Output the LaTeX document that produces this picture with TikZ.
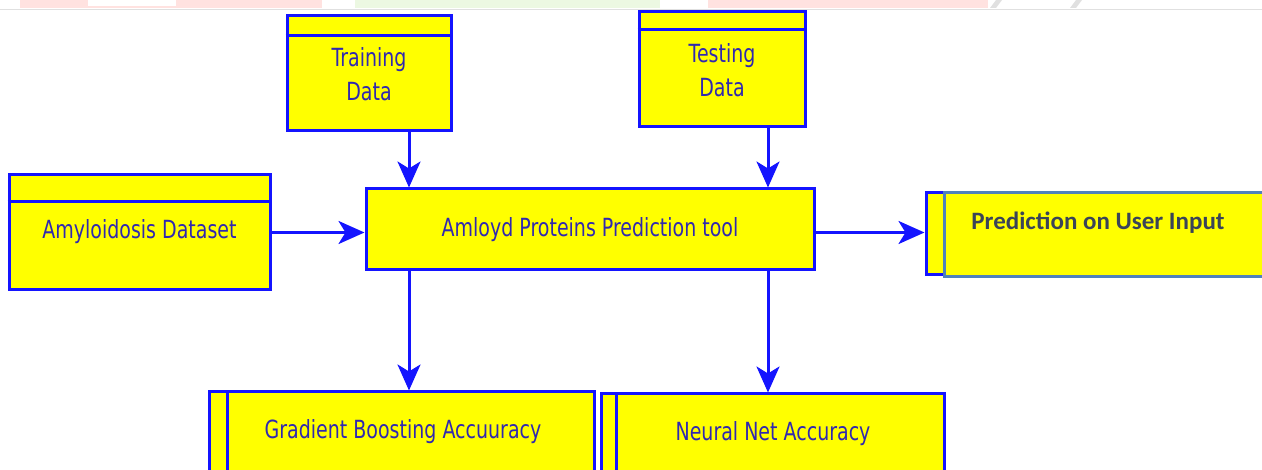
\documentclass[tikz,border=0pt]{standalone}
\usepackage{fontspec}
\usetikzlibrary{arrows.meta,positioning,calc}
\newfontfamily\boxfont[FakeStretch=0.76]{DejaVu Sans}
\newfontfamily\calfont{Carlito}
\definecolor{boxyellow}{RGB}{255,255,0}
\definecolor{edgeblue}{RGB}{20,20,255}
\definecolor{labelblue}{RGB}{48,40,176}
\definecolor{steel}{RGB}{79,129,189}
\definecolor{slatetext}{RGB}{58,68,88}
\definecolor{bandpink}{RGB}{255,226,224}
\definecolor{bandgreen}{RGB}{236,248,226}
\definecolor{bandgray}{RGB}{224,224,224}
\tikzset{
  block/.style={draw=edgeblue, fill=boxyellow, line width=3pt, inner sep=0pt},
  blocktext/.style={font=\boxfont\fontsize{25}{34}\selectfont, text=labelblue, align=center, inner sep=0pt},
  flow/.style={draw=edgeblue, line width=3pt, -{Stealth[length=26pt,width=23pt,inset=7pt]}},
  divider/.style={draw=edgeblue, line width=3pt}
}
\begin{document}
\begin{tikzpicture}[x=1pt,y=-1pt]
  \useasboundingbox (0,0) rectangle (1262,470);
  \clip (0,0) rectangle (1262,470);

  % faint banner strip along the top edge
  \fill[bandpink] (20,0) rectangle (322,8);
  \fill[white] (88,0) rectangle (176,6);
  \fill[bandgreen] (355,0) rectangle (660,8);
  \fill[bandpink] (708,0) rectangle (988,8);
  \fill[bandgray] (990,8) -- (996,0) -- (1002,0) -- (996,8) -- cycle;
  \fill[bandgray] (1070,8) -- (1076,0) -- (1082,0) -- (1076,8) -- cycle;
  \draw[bandgray, line width=1pt] (0,9.5) -- (1262,9.5);

  % arrow columns
  \coordinate (c1) at (409,0);
  \coordinate (c2) at (768,0);

  % data sources
  \node[block, minimum width=164pt, minimum height=115pt] (train) at (369,73.5) {};
  \draw[divider] ([yshift=-21pt]train.north west) -- ([yshift=-21pt]train.north east);
  \node[blocktext] (trainlbl) at (369,74) {Training\\Data};

  \node[block, minimum width=166pt, minimum height=115pt] (test) at (722,69.5) {};
  \draw[divider] ([yshift=-19pt]test.north west) -- ([yshift=-19pt]test.north east);
  \node[blocktext] (testlbl) at (722,70) {Testing\\Data};

  \node[block, minimum width=261pt, minimum height=115pt] (data) at (139.5,232.5) {};
  \draw[divider] ([yshift=-28pt]data.north west) -- ([yshift=-28pt]data.north east);
  \node[blocktext] (datalbl) at (139.5,232) {Amyloidosis Dataset};

  % central tool
  \node[block, minimum width=448pt, minimum height=81pt] (tool) at (590,229.5) {};
  \node[blocktext] (toollbl) at (590,230) {Amloyd Proteins Prediction tool};

  % prediction output
  \node[block, minimum width=30pt, minimum height=82pt] (predtab) at (941,234) {};
  \node[draw=steel, fill=boxyellow, line width=3pt, minimum width=340pt, minimum height=84pt, inner sep=0pt] (pred) at (1114,235) {};
  \node[font=\calfont\bfseries\fontsize{25}{30}\selectfont, text=slatetext, inner sep=0pt] (predlbl) at (1098,223) {Prediction on User Input};

  % accuracy results
  \node[block, minimum width=385pt, minimum height=120pt] (gb) at (401.5,452) {};
  \draw[divider] ([xshift=20pt]gb.north west) -- ([xshift=20pt]gb.south west);
  \node[blocktext] (gblbl) at (403,432) {Gradient Boosting Accuuracy};

  \node[block, minimum width=343pt, minimum height=120pt] (nn) at (772.5,454) {};
  \draw[divider] ([xshift=17pt]nn.north west) -- ([xshift=17pt]nn.south west);
  \node[blocktext] (nnlbl) at (773,434) {Neural Net Accuracy};

  % connectors
  \draw[flow] (train.south -| c1) -- (tool.north -| c1);
  \draw[flow] (test.south -| c2) -- (tool.north -| c2);
  \draw[flow] (data.east) -- (data.east -| tool.west);
  \draw[flow] (tool.east |- data.east) -- (data.east -| predtab.west);
  \draw[flow] (tool.south -| c1) -- (gb.north -| c1);
  \draw[flow] (tool.south -| c2) -- (nn.north -| c2);
\end{tikzpicture}
\end{document}
